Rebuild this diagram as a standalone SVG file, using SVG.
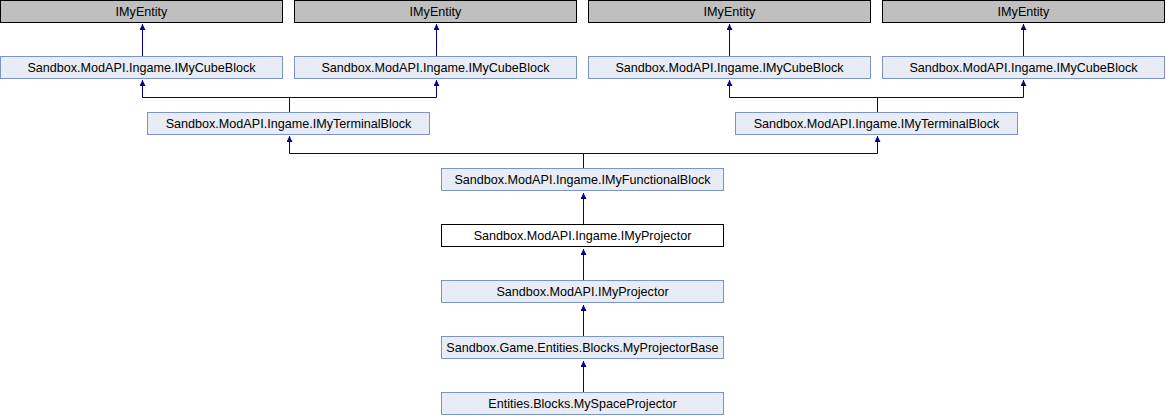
<svg xmlns="http://www.w3.org/2000/svg" width="1166" height="416" viewBox="0 0 1166 416">
<style>
  .ext rect { fill: #bfbfbf; stroke: #000000; stroke-width: 1; }
  .doc rect { fill: #e8ecf5; stroke: #7b93c8; stroke-width: 1; }
  .main rect { fill: #ffffff; stroke: #000000; stroke-width: 1; }
  text { font-family: "Liberation Sans", Arial, sans-serif; font-size: 12.6px; fill: #000000; text-anchor: middle; }
  .edge { fill: none; stroke: #00008b; stroke-width: 1; marker-end: url(#arr); }
</style>
<defs>
  <marker id="arr" markerUnits="userSpaceOnUse" viewBox="0 0 10 10" refX="10" refY="5" markerWidth="8" markerHeight="6" orient="auto">
    <path d="M0,0 L10,5 L0,10 Z" fill="#00008b"/>
  </marker>
</defs>
<rect width="1166" height="416" fill="#ffffff"/>
<g id="connectors">
  <path class="edge" d="M142.5,56 V24"/>
  <path class="edge" d="M436.5,56 V24"/>
  <path class="edge" d="M729.5,56 V24"/>
  <path class="edge" d="M1023.5,56 V24"/>
  <path class="edge" d="M289.5,112 V97.5 H142.5 V80"/>
  <path class="edge" d="M289.5,112 V97.5 H436.5 V80"/>
  <path class="edge" d="M877.5,112 V97.5 H729.5 V80"/>
  <path class="edge" d="M877.5,112 V97.5 H1023.5 V80"/>
  <path class="edge" d="M583.5,168 V153.5 H289.5 V136"/>
  <path class="edge" d="M583.5,168 V153.5 H877.5 V136"/>
  <path class="edge" d="M583.5,224 V193"/>
  <path class="edge" d="M583.5,280 V249"/>
  <path class="edge" d="M583.5,336 V305"/>
  <path class="edge" d="M583.5,392 V361"/>
</g>
<g id="entity1" class="ext"><rect x="0.5" y="0.5" width="282" height="22"/><text x="141.5" y="16">IMyEntity</text></g>
<g id="entity2" class="ext"><rect x="294.5" y="0.5" width="282" height="22"/><text x="435.5" y="16">IMyEntity</text></g>
<g id="entity3" class="ext"><rect x="588.5" y="0.5" width="282" height="22"/><text x="729.5" y="16">IMyEntity</text></g>
<g id="entity4" class="ext"><rect x="882.5" y="0.5" width="282" height="22"/><text x="1023.5" y="16">IMyEntity</text></g>
<g id="cube1" class="doc"><rect x="0.5" y="56.5" width="282" height="22"/><text x="141.5" y="72">Sandbox.ModAPI.Ingame.IMyCubeBlock</text></g>
<g id="cube2" class="doc"><rect x="294.5" y="56.5" width="282" height="22"/><text x="435.5" y="72">Sandbox.ModAPI.Ingame.IMyCubeBlock</text></g>
<g id="cube3" class="doc"><rect x="588.5" y="56.5" width="282" height="22"/><text x="729.5" y="72">Sandbox.ModAPI.Ingame.IMyCubeBlock</text></g>
<g id="cube4" class="doc"><rect x="882.5" y="56.5" width="282" height="22"/><text x="1023.5" y="72">Sandbox.ModAPI.Ingame.IMyCubeBlock</text></g>
<g id="terminal1" class="doc"><rect x="147.5" y="112.5" width="282" height="22"/><text x="288.5" y="128">Sandbox.ModAPI.Ingame.IMyTerminalBlock</text></g>
<g id="terminal2" class="doc"><rect x="735.5" y="112.5" width="282" height="22"/><text x="876.5" y="128">Sandbox.ModAPI.Ingame.IMyTerminalBlock</text></g>
<g id="functional" class="doc"><rect x="441.5" y="168.5" width="282" height="22"/><text x="582.5" y="184">Sandbox.ModAPI.Ingame.IMyFunctionalBlock</text></g>
<g id="projector" class="main"><rect x="441.5" y="224.5" width="282" height="22"/><text x="582.5" y="240">Sandbox.ModAPI.Ingame.IMyProjector</text></g>
<g id="modprojector" class="doc"><rect x="441.5" y="280.5" width="282" height="22"/><text x="582.5" y="296">Sandbox.ModAPI.IMyProjector</text></g>
<g id="projectorbase" class="doc"><rect x="441.5" y="336.5" width="282" height="22"/><text x="582.5" y="352">Sandbox.Game.Entities.Blocks.MyProjectorBase</text></g>
<g id="spaceprojector" class="doc"><rect x="441.5" y="392.5" width="282" height="22"/><text x="582.5" y="408">Entities.Blocks.MySpaceProjector</text></g>
</svg>
